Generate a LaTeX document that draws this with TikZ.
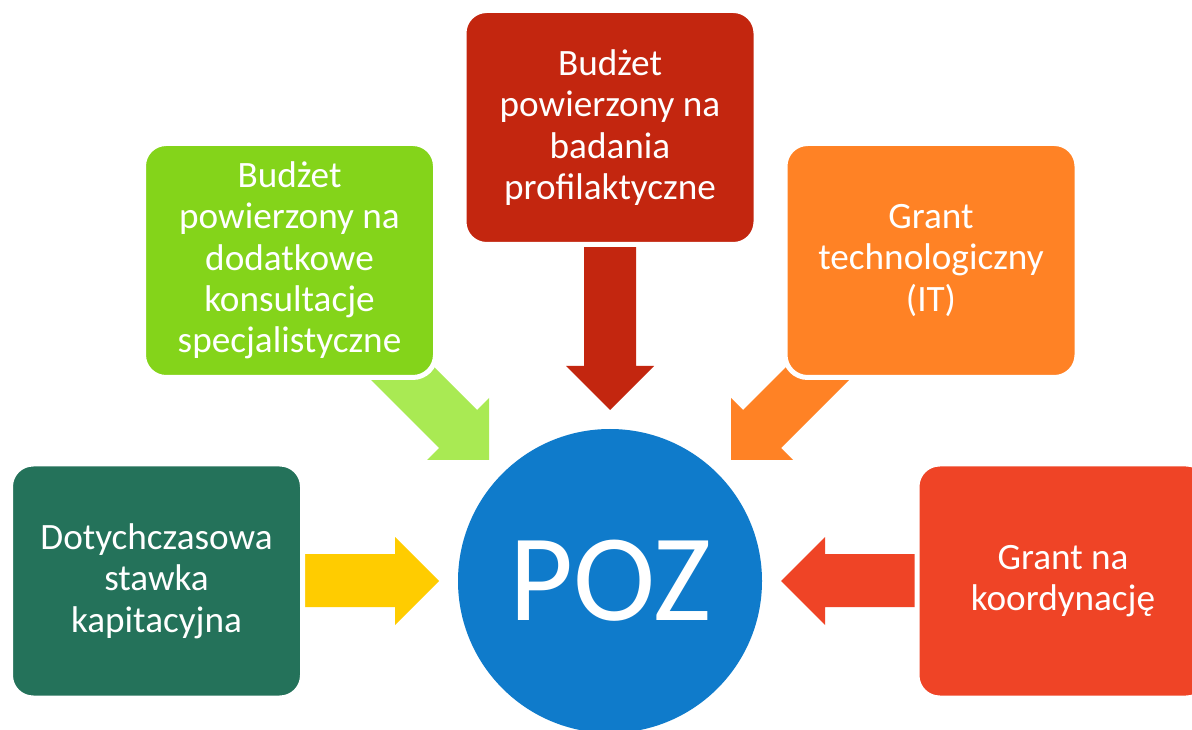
\documentclass[tikz,border=0pt]{standalone}
\usepackage{fontspec}
\setmainfont{Carlito}
\definecolor{cDark}{HTML}{24725A}
\definecolor{cLime}{HTML}{84D41A}
\definecolor{cRed}{HTML}{C3260F}
\definecolor{cOrange}{HTML}{FF8225}
\definecolor{cRedR}{HTML}{EF4426}
\definecolor{cBlue}{HTML}{0F7BCB}
\definecolor{cYellow}{HTML}{FFCC00}
\definecolor{cLimeA}{HTML}{A9EA53}
\tikzset{
  box/.style={rectangle, rounded corners=17pt, draw=white, line width=3.75pt,
    minimum width=219pt, minimum height=175.5pt, align=center, text=white,
    font=\fontsize{27.9}{31}\selectfont, inner sep=0pt},
  hub/.style={circle, fill=cBlue, minimum size=228pt, inner sep=0pt, text=white,
    font=\fontsize{93}{100}\selectfont},
  blockarrow/.style={draw=none}
}
\begin{document}
\begin{tikzpicture}[x=0.75pt, y=-0.75pt]
\clip (0,0) rectangle (1192,730);
\fill[white] (0,0) rectangle (1192,730);
% block arrows (under boxes)
\fill[blockarrow, cYellow] (280,554) -- (395,554) -- (395,537) -- (439,581) -- (395,625) -- (395,607) -- (280,607) -- cycle;
\fill[blockarrow, cRedR] (940,554) -- (825,554) -- (825,537) -- (781,581) -- (825,625) -- (825,607) -- (940,607) -- cycle;
\fill[blockarrow, cRed] (584,200) -- (636,200) -- (636,366) -- (654,366) -- (610,410) -- (566,366) -- (584,366) -- cycle;
\fill[blockarrow, cLimeA] (387,320) -- (477,410) -- (489,398) -- (489,460) -- (427,460) -- (439,448) -- (349,358) -- cycle;
\fill[blockarrow, cOrange] (833,320) -- (743,410) -- (731,398) -- (731,460) -- (793,460) -- (781,448) -- (871,358) -- cycle;
% boxes
\node[box, fill=cDark] (stawka) at (156.5,581) {Dotychczasowa\\stawka\\kapitacyjna};
\node[box, fill=cLime] (konsult) at (289.5,260.5) {Budżet\\powierzony na\\dodatkowe\\konsultacje\\specjalistyczne};
\node[box, fill=cRed] (badania) at (610,127.5) {Budżet\\powierzony na\\badania\\profilaktyczne};
\node[box, fill=cOrange] (it) at (931,260.5) {Grant\\technologiczny\\(IT)};
\node[box, fill=cRedR] (koord) at (1063,581) {Grant na\\koordynację};
% hub
\node[hub] (poz) at (610,581) {POZ};
\end{tikzpicture}
\end{document}
